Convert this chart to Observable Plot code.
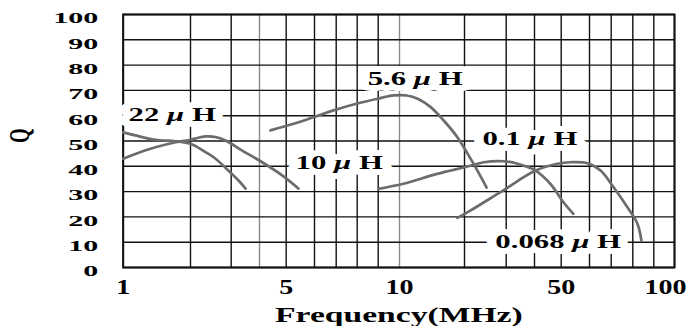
<!DOCTYPE html>
<html>
<head>
<meta charset="utf-8">
<script src="https://cdn.jsdelivr.net/npm/d3@7"></script>
<script src="https://cdn.jsdelivr.net/npm/@observablehq/plot@0.6"></script>
<style>
  html, body { margin: 0; padding: 0; background: #fff; }
</style>
</head>
<body>
<script>
// ---- data ----
const seriesNames = ["22 μH", "10 μH", "5.6 μH", "0.1 μH", "0.068 μH"];

const freq22uH = [1, 1.18, 1.48, 1.78, 2, 2.37, 2.61, 2.93, 3.26, 3.51];
const q22uH    = [53.4, 52.2, 50.5, 49.9, 48.9, 45.6, 43.1, 38.3, 34.4, 31.2];

const freq10uH = [1, 1.18, 1.48, 1.78, 2, 2.37, 2.61, 2.86, 3.39, 4.1, 4.85, 5.43];
const q10uH    = [43.0, 44.9, 47.5, 49.5, 50.5, 51.8, 51.6, 50.2, 46.2, 41.6, 36.4, 31.2];

const freq5p6uH = [4.41, 5.26, 5.96, 6.88, 8.0, 8.97, 9.72, 11.2, 12.8, 14.8, 16.8, 18.9, 20.7, 23.1, 25.3];
const q5p6uH    = [54.2, 56.8, 59.4, 62.1, 64.8, 66.7, 68.0, 68.0, 66.7, 63.4, 58.1, 51.5, 45.1, 38.3, 31.6];

const freq0p1uH = [9.01, 10.6, 15.8, 20.7, 24.6, 29.4, 34.0, 40.4, 46.0, 50.8, 54.3];
const q0p1uH    = [31.1, 33.1, 37.0, 39.9, 41.6, 42.0, 41.0, 38.3, 33.0, 25.8, 21.2];

const freq0p068uH = [18.9, 21.4, 29.2, 40.4, 48.6, 53.3, 59.3, 65.1, 71.1, 77.5, 82.2, 84.1];
const q0p068uH    = [19.6, 22.5, 30.4, 38.3, 41.0, 41.6, 41.2, 38.3, 31.7, 23.8, 17.3, 10.7];

const labelTexts = ["22 μ H", "10 μ H", "5.6 μ H", "0.1 μ H", "0.068 μ H"];
const labelFreq  = [1.08, 5.33, 8.5, 24.3, 27.4];
const labelQ     = [60.5, 41.2, 74.5, 51, 10.3];

const xGridTicks  = [1, 2, 3, 4, 5, 6, 7, 8, 9, 10, 20, 30, 40, 50, 60, 70, 80, 90, 100];
const xTickLabels = [1, 5, 10, 50, 100];
const yTicks      = [0, 10, 20, 30, 40, 50, 60, 70, 80, 90, 100];
const xTitle = "Frequency(MHz)";
const yTitle = "Q";

// ---- build tables ----
const curveFreqs = [freq22uH, freq10uH, freq5p6uH, freq0p1uH, freq0p068uH];
const curveQs    = [q22uH, q10uH, q5p6uH, q0p1uH, q0p068uH];
const rows = seriesNames.flatMap((s, i) =>
  curveFreqs[i].map((f, j) => ({series: s, freq: f, q: curveQs[i][j]})));
const labels = labelTexts.map((t, i) => ({text: t, freq: labelFreq[i], q: labelQ[i]}));

const lightGrid = [4, 10];

const svg = Plot.plot({
  width: 693,
  height: 326,
  marginLeft: 122.7,
  marginRight: 19,
  marginTop: 14,
  marginBottom: 59,
  style: {fontFamily: "'Liberation Serif', 'Times New Roman', serif", fontWeight: "bold", color: "#000", background: "#fff"},
  x: {
    type: "linear",
    domain: xGridTicks,
    range: [122.7, 190, 230.7, 259, 285.7, 314, 335.7, 356.7, 377.7, 399,
            464, 505.7, 534, 560.7, 589, 610.7, 632.3, 653.3, 674]
  },
  y: {domain: [0, 100]},
  marks: [
    Plot.gridX(xGridTicks.filter(d => !lightGrid.includes(d)), {stroke: "#111", strokeOpacity: 1, strokeWidth: 1.4}),
    Plot.gridX(lightGrid, {stroke: "#8a8a8a", strokeOpacity: 1, strokeWidth: 1.4}),
    Plot.gridY(yTicks, {stroke: "#111", strokeOpacity: 1, strokeWidth: 1.4}),
    Plot.frame({stroke: "#111", strokeWidth: 2}),
    Plot.line(rows, {x: "freq", y: "q", z: "series", stroke: "#6c6c6c", strokeWidth: 2.7, curve: "catmull-rom"}),
    Plot.text(labels, {x: "freq", y: "q", text: "text", textAnchor: "start", fill: "#000",
      stroke: "#fff", strokeWidth: 12, fontSize: 19, fontWeight: "bold", ariaDescription: "curve-labels"}),
    Plot.axisY(yTicks, {tickSize: 0, tickPadding: 25, dy: 4, fontSize: 15, fontWeight: "bold", label: null}),
    Plot.text([yTitle], {frameAnchor: "left", dx: -103, dy: 2, rotate: -90, fontSize: 19, fontWeight: "bold",
      ariaDescription: "y-title"}),
    Plot.axisX(xTickLabels.filter(d => d < 100), {tickSize: 0, tickPadding: 12, fontSize: 20, fontWeight: "bold",
      tickFormat: d => String(d), label: null}),
    Plot.axisX(xTickLabels.filter(d => d >= 100), {tickSize: 0, tickPadding: 12, fontSize: 20, fontWeight: "bold",
      tickFormat: d => String(d), dx: -9, label: null}),
    Plot.text([xTitle], {frameAnchor: "bottom", dy: 54, fontSize: 20, fontWeight: "bold", ariaDescription: "x-title"})
  ]
});
document.body.append(svg);

// italic μ in curve labels
const svgNS = "http://www.w3.org/2000/svg";
svg.querySelectorAll('g[aria-description="curve-labels"] text').forEach(t => {
  const parts = t.textContent.split("μ");
  if (parts.length === 2) {
    t.textContent = "";
    t.append(parts[0]);
    const ts = document.createElementNS(svgNS, "tspan");
    ts.setAttribute("font-style", "italic");
    ts.textContent = "μ";
    t.append(ts, parts[1]);
  }
});

// widen glyphs to match the reference's broad lettering
function stretchText(selector, k) {
  svg.querySelectorAll(selector).forEach(t => {
    const w = t.getComputedTextLength();
    t.setAttribute("textLength", (w * k).toFixed(1));
    t.setAttribute("lengthAdjust", "spacingAndGlyphs");
  });
}
stretchText('g[aria-description="curve-labels"] text', 1.62);
stretchText('g[aria-label="y-axis tick label"] text', 2.0);
stretchText('g[aria-label="x-axis tick label"] text', 1.4);
stretchText('g[aria-description="x-title"] text', 1.68);

// the rotated "Q" is widened across the page as well
svg.querySelectorAll('g[aria-description="y-title"] text').forEach(t => {
  const tr = t.getAttribute("transform") || "";
  t.setAttribute("transform", tr + " scale(1,1.5)");
});
</script>
</body>
</html>
